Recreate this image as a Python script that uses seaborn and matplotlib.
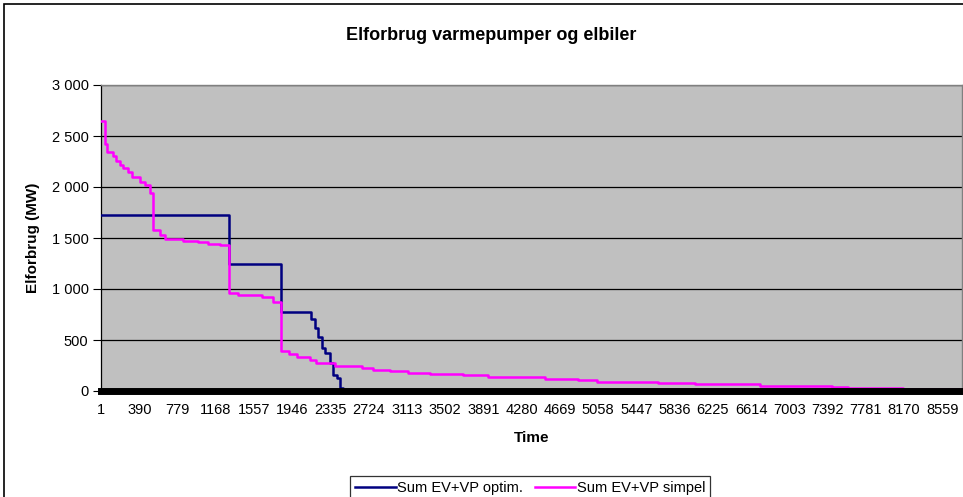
import numpy as np
import pandas as pd
import matplotlib
matplotlib.use("Agg")
import matplotlib.pyplot as plt
import seaborn as sns
from matplotlib.patches import Rectangle
from matplotlib.ticker import FuncFormatter

# Varighedskurver (timer sorteret efter forbrug), trin-værdier aflæst
opt_timer = [1, 1300, 1830, 2140, 2180, 2210, 2245, 2280, 2330, 2365, 2400, 2430, 2465, 2500, 8760]
opt_mw = [1730, 1245, 775, 710, 615, 530, 420, 370, 270, 160, 125, 30, 10, 4, 4]

sim_timer = [1, 40, 58, 119, 153, 193, 227, 278, 312, 397, 448, 498, 532, 600, 651, 837, 990,
             1092, 1211, 1305, 1397, 1634, 1752, 1831, 1913, 1991, 2126, 2187, 2380, 2651, 2763,
             2940, 3123, 3347, 3683, 3937, 4517, 4852, 5046, 5260, 5666, 6043, 6704, 7433, 7599,
             8159, 8760]
sim_mw = [2650, 2420, 2340, 2300, 2255, 2215, 2185, 2150, 2100, 2045, 2020, 1940, 1580, 1530,
          1495, 1475, 1458, 1440, 1430, 958, 940, 918, 876, 392, 360, 337, 304, 271, 248, 229,
          206, 192, 180, 167, 157, 134, 118, 105, 92, 85, 78, 65, 49, 36, 29, 16, 16]

x_ticks = list(range(1, 8761, 389))
y_ticks = [0, 500, 1000, 1500, 2000, 2500, 3000]

navn_opt = "Sum EV+VP optim."
navn_sim = "Sum EV+VP simpel"

df = pd.concat([
    pd.DataFrame({"time": opt_timer, "mw": opt_mw, "serie": navn_opt}),
    pd.DataFrame({"time": sim_timer, "mw": sim_mw, "serie": navn_sim}),
])

plt.rcParams["font.family"] = ["Liberation Sans", "DejaVu Sans"]

fig = plt.figure(figsize=(9.63, 4.97), dpi=100)
ax = fig.add_axes([101 / 963, 1 - 391 / 497, 861 / 963, 306 / 497])
ax.set_facecolor("#C0C0C0")

sns.lineplot(data=df, x="time", y="mw", hue="serie",
             palette={navn_opt: "#000080", navn_sim: "#FF00FF"},
             drawstyle="steps-post", linewidth=1.8, ax=ax, legend=False, zorder=3)

ax.set_xlim(0.5, 8760.5)
ax.set_ylim(0, 3000)
ax.set_yticks(y_ticks)
ax.yaxis.set_major_formatter(FuncFormatter(lambda v, p: f"{int(v):,}".replace(",", " ")))
ax.set_xticks(x_ticks)
ax.set_xticklabels([str(t) for t in x_ticks])
ax.tick_params(axis="x", length=0, pad=9, labelsize=10.5)
ax.tick_params(axis="y", length=6, width=0.8, direction="out", pad=3, labelsize=10.5)

ax.grid(axis="y", color="black", linewidth=0.9, zorder=1)
ax.set_axisbelow(True)

for s in ["top", "right"]:
    ax.spines[s].set_color("#808080")
    ax.spines[s].set_linewidth(1)
ax.spines["left"].set_color("black")
ax.spines["left"].set_linewidth(0.9)
ax.spines["bottom"].set_color("black")
ax.spines["bottom"].set_linewidth(5)
ax.spines["bottom"].set_zorder(4)

ax.set_xlabel("Time", fontsize=11, fontweight="bold", labelpad=10)
ax.set_ylabel("Elforbrug (MW)", fontsize=11, fontweight="bold", labelpad=8)
fig.text(491 / 963, 1 - 35 / 497, "Elforbrug varmepumper og elbiler",
         ha="center", va="center", fontsize=13, fontweight="bold")

handles = [plt.Line2D([], [], color="#000080", linewidth=1.8),
           plt.Line2D([], [], color="#FF00FF", linewidth=1.8)]
leg = fig.legend(handles, [navn_opt, navn_sim], loc="upper center",
                 bbox_to_anchor=(530 / 963, 1 - 469 / 497), ncol=2, fontsize=10.5,
                 frameon=True, fancybox=False, handlelength=2.8, handletextpad=0.1,
                 columnspacing=0.8, borderpad=0.35)
leg.get_frame().set_edgecolor("black")
leg.get_frame().set_linewidth(0.9)

fig.patches.append(Rectangle((4 / 963, -0.1), 1.2, 1 - 4 / 497 + 0.1,
                             transform=fig.transFigure, fill=False,
                             edgecolor="black", linewidth=1.2))

fig.savefig("out.png", dpi=100)
